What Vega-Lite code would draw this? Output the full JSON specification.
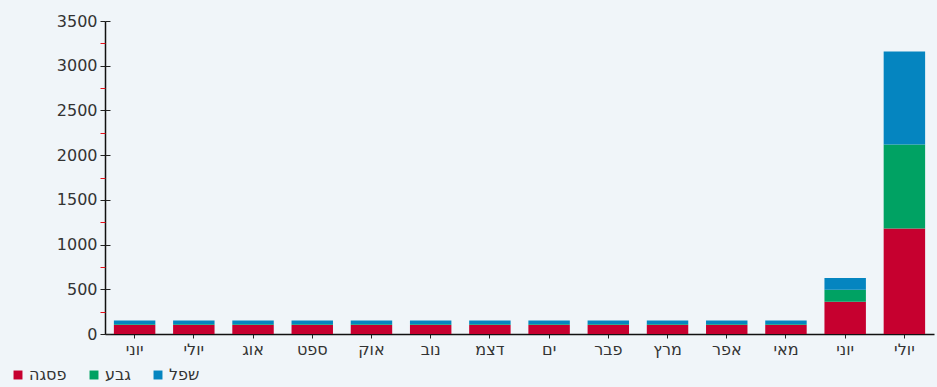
{
  "$schema": "https://vega.github.io/schema/vega-lite/v6.json",
  "autosize": {"type": "none"},
  "width": 829,
  "height": 313,
  "padding": {"left": 105, "top": 21, "right": 3, "bottom": 53},
  "background": "#f0f5f9",
  "config": {
    "view": {"stroke": null},
    "font": "DejaVu Sans",
    "locale": {
      "time": {
        "dateTime": "%x, %X",
        "date": "%-m/%-d/%Y",
        "time": "%-I:%M:%S %p",
        "periods": ["AM", "PM"],
        "days": ["ראשון", "שני", "שלישי", "רביעי", "חמישי", "שישי", "שבת"],
        "shortDays": ["א", "ב", "ג", "ד", "ה", "ו", "ש"],
        "months": ["ינואר", "פברואר", "מרץ", "אפריל", "מאי", "יוני", "יולי", "אוגוסט", "ספטמבר", "אוקטובר", "נובמבר", "דצמבר"],
        "shortMonths": ["ים", "פבר", "מרץ", "אפר", "מאי", "יוני", "יולי", "אוג", "ספט", "אוק", "נוב", "דצמ"]
      }
    }
  },
  "data": {
    "values": [
      {"d": "2023-06-15", "s": "פסגה", "k": 1, "v": 100}, {"d": "2023-06-15", "s": "גבע", "k": 2, "v": 10}, {"d": "2023-06-15", "s": "שפל", "k": 3, "v": 40},
      {"d": "2023-07-15", "s": "פסגה", "k": 1, "v": 100}, {"d": "2023-07-15", "s": "גבע", "k": 2, "v": 10}, {"d": "2023-07-15", "s": "שפל", "k": 3, "v": 40},
      {"d": "2023-08-15", "s": "פסגה", "k": 1, "v": 100}, {"d": "2023-08-15", "s": "גבע", "k": 2, "v": 10}, {"d": "2023-08-15", "s": "שפל", "k": 3, "v": 40},
      {"d": "2023-09-15", "s": "פסגה", "k": 1, "v": 100}, {"d": "2023-09-15", "s": "גבע", "k": 2, "v": 10}, {"d": "2023-09-15", "s": "שפל", "k": 3, "v": 40},
      {"d": "2023-10-15", "s": "פסגה", "k": 1, "v": 100}, {"d": "2023-10-15", "s": "גבע", "k": 2, "v": 10}, {"d": "2023-10-15", "s": "שפל", "k": 3, "v": 40},
      {"d": "2023-11-15", "s": "פסגה", "k": 1, "v": 100}, {"d": "2023-11-15", "s": "גבע", "k": 2, "v": 10}, {"d": "2023-11-15", "s": "שפל", "k": 3, "v": 40},
      {"d": "2023-12-15", "s": "פסגה", "k": 1, "v": 100}, {"d": "2023-12-15", "s": "גבע", "k": 2, "v": 10}, {"d": "2023-12-15", "s": "שפל", "k": 3, "v": 40},
      {"d": "2024-01-15", "s": "פסגה", "k": 1, "v": 100}, {"d": "2024-01-15", "s": "גבע", "k": 2, "v": 10}, {"d": "2024-01-15", "s": "שפל", "k": 3, "v": 40},
      {"d": "2024-02-15", "s": "פסגה", "k": 1, "v": 100}, {"d": "2024-02-15", "s": "גבע", "k": 2, "v": 10}, {"d": "2024-02-15", "s": "שפל", "k": 3, "v": 40},
      {"d": "2024-03-15", "s": "פסגה", "k": 1, "v": 100}, {"d": "2024-03-15", "s": "גבע", "k": 2, "v": 10}, {"d": "2024-03-15", "s": "שפל", "k": 3, "v": 40},
      {"d": "2024-04-15", "s": "פסגה", "k": 1, "v": 100}, {"d": "2024-04-15", "s": "גבע", "k": 2, "v": 10}, {"d": "2024-04-15", "s": "שפל", "k": 3, "v": 40},
      {"d": "2024-05-15", "s": "פסגה", "k": 1, "v": 100}, {"d": "2024-05-15", "s": "גבע", "k": 2, "v": 10}, {"d": "2024-05-15", "s": "שפל", "k": 3, "v": 40},
      {"d": "2024-06-15", "s": "פסגה", "k": 1, "v": 360}, {"d": "2024-06-15", "s": "גבע", "k": 2, "v": 135}, {"d": "2024-06-15", "s": "שפל", "k": 3, "v": 130},
      {"d": "2024-07-15", "s": "פסגה", "k": 1, "v": 1180}, {"d": "2024-07-15", "s": "גבע", "k": 2, "v": 940}, {"d": "2024-07-15", "s": "שפל", "k": 3, "v": 1040}
    ]
  },
  "encoding": {
    "x": {
      "field": "d",
      "timeUnit": "yearmonth",
      "type": "ordinal",
      "scale": {"paddingInner": 0.3, "paddingOuter": 0.15},
      "axis": {
        "title": null,
        "format": "%b",
        "labelAngle": 0,
        "labelFont": "DejaVu Sans",
        "labelFontSize": 16,
        "labelColor": "#333333",
        "labelPadding": 3,
        "tickSize": 4,
        "tickColor": "#222222",
        "domainColor": "#111111",
        "domainWidth": 1.5
      }
    }
  },
  "layer": [
    {
      "mark": {"type": "bar"},
      "encoding": {
        "y": {
          "field": "v",
          "type": "quantitative",
          "stack": "zero",
          "scale": {"domain": [0, 3500], "nice": false},
          "axis": {
            "orient": "left",
            "title": null,
            "grid": false,
            "format": "d",
            "values": [0, 500, 1000, 1500, 2000, 2500, 3000, 3500],
            "labelFont": "DejaVu Sans",
            "labelFontSize": 16,
            "labelColor": "#333333",
            "labelPadding": 3,
            "tickSize": 5,
            "tickColor": "#222222",
            "domainColor": "#111111",
            "domainWidth": 1.5
          }
        },
        "color": {
          "field": "s",
          "type": "nominal",
          "scale": {"domain": ["פסגה", "גבע", "שפל"], "range": ["#c6002f", "#00a263", "#0585c0"]},
          "legend": {
            "title": null,
            "orient": "none",
            "direction": "horizontal",
            "legendX": -95,
            "legendY": 346,
            "symbolType": "square",
            "symbolSize": 80,
            "symbolStrokeWidth": 0,
            "labelFont": "DejaVu Sans",
            "labelFontSize": 16,
            "labelColor": "#333333",
            "labelOffset": 3,
            "columnPadding": 19
          }
        },
        "order": {"field": "k", "type": "quantitative"}
      }
    },
    {
      "mark": {"type": "bar", "opacity": 0},
      "encoding": {
        "y": {
          "field": "v",
          "type": "quantitative",
          "stack": "zero",
          "scale": {"domain": [0, 3500], "nice": false},
          "axis": {
            "orient": "left",
            "title": null,
            "grid": false,
            "labels": false,
            "domain": false,
            "values": [0, 500, 1000, 1500, 2000, 2500, 3000, 3500],
            "tickSize": -5,
            "tickColor": "#222222"
          }
        }
      }
    },
    {
      "mark": {"type": "bar", "opacity": 0},
      "encoding": {
        "y": {
          "field": "v",
          "type": "quantitative",
          "stack": "zero",
          "scale": {"domain": [0, 3500], "nice": false},
          "axis": {
            "orient": "left",
            "title": null,
            "grid": false,
            "labels": false,
            "domain": false,
            "values": [250, 750, 1250, 1750, 2250, 2750, 3250],
            "tickSize": 5,
            "tickColor": "#e8101a"
          }
        }
      }
    }
  ],
  "resolve": {"scale": {"y": "shared"}, "axis": {"y": "independent"}}
}
